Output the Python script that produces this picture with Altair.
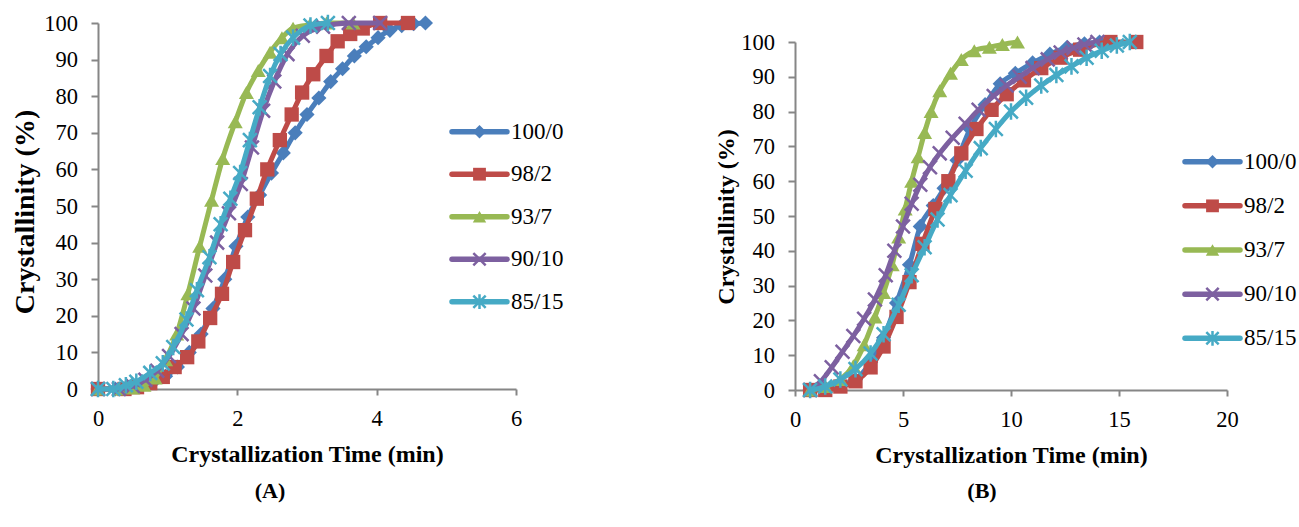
import altair as alt
import pandas as pd

series = ["100/0", "98/2", "93/7", "90/10", "85/15"]
colors = ["#4A7EBB", "#BE4B48", "#98B954", "#7D60A0", "#46AAC5"]
panel_labels = ["(A)", "(B)"]
x_title = "Crystallization Time (min)"
y_title = "Crystallinity (%)"

# ---------------- Panel A ----------------
a_t_100 = [0, 0.25, 0.45, 0.62, 0.8, 0.97, 1.14, 1.31, 1.48, 1.65, 1.82, 1.98, 2.15, 2.32, 2.49, 2.66, 2.83, 3.0, 3.17, 3.34, 3.51, 3.68, 3.85, 4.02, 4.19, 4.36, 4.53, 4.7]
a_c_100 = [0, 0, 0.5, 1, 2, 3.5, 6, 10, 15, 22, 30, 39, 47, 53, 59, 64.5, 70, 75, 79.5, 84, 87.5, 91, 93.5, 96, 98, 99.3, 99.8, 100]
a_t_98 = [0, 0.38, 0.56, 0.75, 0.93, 1.1, 1.28, 1.44, 1.61, 1.78, 1.94, 2.11, 2.28, 2.43, 2.61, 2.78, 2.93, 3.09, 3.28, 3.44, 3.62, 3.8, 4.05, 4.45]
a_c_98 = [0, 0, 0.5, 1.6, 3.3, 6, 8.7, 13, 19.4, 26, 34.7, 43.4, 52, 60, 68, 75, 81, 86, 91, 95, 97, 98.5, 100, 100]
a_t_93 = [0, 0.3, 0.5, 0.66, 0.82, 0.97, 1.13, 1.29, 1.46, 1.63, 1.79, 1.97, 2.13, 2.3, 2.47, 2.64, 2.8, 3.04, 3.28, 3.66]
a_c_93 = [0, 0, 0.3, 1, 3, 8, 15, 26, 39, 51.6, 63, 73, 81, 87, 92, 96, 98.6, 99.5, 100, 100]
a_t_90 = [0, 0.3, 0.5, 0.68, 0.85, 1.02, 1.2, 1.37, 1.54, 1.71, 1.88, 2.05, 2.21, 2.37, 2.53, 2.72, 2.94, 3.23, 3.6, 4.05]
a_c_90 = [0, 0, 0.8, 2.5, 5, 9, 15, 22, 31, 40, 48, 56, 66, 76, 84, 91.5, 96.5, 99, 100, 100]
a_t_85 = [0, 0.22, 0.4, 0.55, 0.75, 0.93, 1.08, 1.27, 1.42, 1.6, 1.76, 1.9, 2.04, 2.18, 2.32, 2.47, 2.62, 2.8, 3.05, 3.3]
a_c_85 = [0, 0, 1, 2, 4.4, 7, 11.5, 19, 27, 36, 45, 52, 59, 68, 77, 85.5, 91.5, 96, 99.3, 100]

# ---------------- Panel B ----------------
b_t_100 = [0.7, 1.4, 2.1, 2.8, 3.5, 4.1, 4.7, 5.3, 5.8, 6.4, 6.9, 7.5, 8.1, 8.8, 9.5, 10.2, 11.0, 11.8, 12.6, 13.4, 14.1]
b_c_100 = [0, 0.5, 1.5, 3, 8, 15, 25, 36, 47, 53, 58, 66, 75, 82, 88, 91, 94, 96.5, 98.5, 99.5, 100]
b_t_98 = [0.7, 1.4, 2.1, 2.8, 3.5, 4.1, 4.7, 5.3, 5.9, 6.5, 7.1, 7.7, 8.4, 9.1, 9.8, 10.6, 11.4, 12.3, 13.2, 14.6, 15.8]
b_c_98 = [0, 0, 1, 2.5, 6.5, 12.5, 21, 31, 42, 52, 60, 68, 75, 80.5, 85, 89, 92.5, 95.5, 97.8, 100, 100]
b_t_93 = [0.7, 1.4, 2.1, 2.7, 3.2, 3.7, 4.1, 4.5, 4.8, 5.1, 5.4, 5.7, 6.0, 6.3, 6.7, 7.2, 7.7, 8.3, 9.0, 9.6, 10.3]
b_c_93 = [0, 1, 3, 7, 13, 21, 28, 36, 44, 52, 60, 67, 74, 80, 86, 91, 95, 97.5, 98.5, 99.3, 100]
b_t_90 = [0.7, 1.2, 1.7, 2.2, 2.7, 3.2, 3.7, 4.2, 4.6, 5.0, 5.4, 5.8, 6.25, 6.7, 7.3, 7.9, 8.5, 9.2, 9.8, 10.4, 11.0, 11.7, 12.3, 12.9, 13.4, 14.0]
b_c_90 = [0, 2.5, 6.5, 11, 15.5, 20.5, 26, 33, 40, 47, 53.5, 59, 64, 68, 72.5, 76.5, 80.5, 84.5, 87.5, 90, 92.5, 95, 97, 98.3, 99.3, 100]
b_t_85 = [0.7, 1.4, 2.1, 2.8, 3.5, 4.1, 4.8, 5.4, 6.0, 6.6, 7.2, 7.9, 8.6, 9.3, 10.0, 10.7, 11.4, 12.1, 12.8, 13.5, 14.2, 14.9, 15.5]
b_c_85 = [0, 1, 3, 6, 10.5, 16, 24.5, 33, 41, 49, 56, 63, 69.5, 75, 80, 84, 87.5, 90.5, 93, 95.5, 97.5, 99, 100]

A_data = [(a_t_100, a_c_100), (a_t_98, a_c_98), (a_t_93, a_c_93), (a_t_90, a_c_90), (a_t_85, a_c_85)]
B_data = [(b_t_100, b_c_100), (b_t_98, b_c_98), (b_t_93, b_c_93), (b_t_90, b_c_90), (b_t_85, b_c_85)]


def frame(data):
    rows = []
    for s, (ts, cs) in zip(series, data):
        for t, c in zip(ts, cs):
            rows.append({"series": s, "t": t, "c": c})
    return pd.DataFrame(rows)


dfA = frame(A_data)
dfB = frame(B_data)

FONT = "Liberation Serif"
AX = "#868686"
X_PATH = "M-1,-1L1,1M-1,1L1,-1"
STAR_PATH = "M-1,-1L1,1M-1,1L1,-1M0,-1.2L0,1.2"
marker = [
    dict(shape="diamond", filled=True, size=230),
    dict(shape="square", filled=True, size=205),
    dict(shape="triangle-up", filled=True, size=225),
    dict(shape=X_PATH, filled=False, size=190),
    dict(shape=STAR_PATH, filled=False, size=190),
]


def point_mark(base, i, scale=1.0):
    m = marker[i]
    if m["filled"]:
        return base.mark_point(shape=m["shape"], filled=True, size=m["size"] * scale, color=colors[i], opacity=1)
    return base.mark_point(shape=m["shape"], filled=False, size=m["size"] * scale, color=colors[i],
                           strokeWidth=2.5, opacity=1)


def panel(df, xdom, xvals, xrange, yrange, xoff, yoff, ytitle_size, ytitle_x, ytitle_y):
    xenc = alt.X("t:Q", scale=alt.Scale(domain=xdom, range=xrange, nice=False, zero=False),
                 axis=alt.Axis(values=xvals, orient="bottom", offset=xoff, grid=False,
                               domainColor=AX, domainWidth=2, tickColor=AX, tickWidth=2, tickSize=6,
                               labelFont=FONT, labelFontSize=22.5, labelColor="black", labelPadding=12,
                               labelFlush=False, labelOverlap=False,
                               title=x_title, titleFont=FONT, titleFontSize=24, titleFontWeight="bold",
                               titleColor="black", titleBaseline="alphabetic", titleY=72))
    yenc = alt.Y("c:Q", scale=alt.Scale(domain=[0, 100], range=yrange, nice=False, zero=False),
                 axis=alt.Axis(values=list(range(0, 101, 10)), orient="left", offset=yoff, grid=False,
                               domainColor=AX, domainWidth=2, tickColor=AX, tickWidth=2, tickSize=7,
                               labelFont=FONT, labelFontSize=22.5, labelColor="black", labelPadding=13.5,
                               labelFlush=False, labelOverlap=False,
                               title=y_title, titleFont=FONT, titleFontSize=ytitle_size, titleFontWeight="bold",
                               titleColor="black", titleAngle=270, titleBaseline="alphabetic",
                               titleX=ytitle_x, titleY=ytitle_y))
    layers = []
    for i, s in enumerate(series):
        base = alt.Chart(df).transform_filter(alt.datum.series == s)
        layers.append(base.mark_line(color=colors[i], strokeWidth=5, interpolate="monotone",
                                     strokeCap="round", strokeJoin="round")
                      .encode(x=xenc, y=yenc, order="t:Q"))
        layers.append(point_mark(base, i).encode(x=xenc, y=yenc))
    return alt.layer(*layers)


def legend(x1, x2, yrange):
    dl = pd.DataFrame({"series": series})
    yenc = alt.Y("series:N", scale=alt.Scale(type="point", domain=series, range=yrange, padding=0), axis=None)
    layers = []
    xm = (x1 + x2) / 2
    for i, s in enumerate(series):
        base = alt.Chart(dl).transform_filter(alt.datum.series == s)
        layers.append(base.mark_rule(color=colors[i], strokeWidth=5.5, strokeCap="round")
                      .encode(x=alt.value(x1), x2=alt.value(x2), y=yenc))
        layers.append(point_mark(base, i, 0.8).encode(x=alt.value(xm), y=yenc))
        layers.append(base.mark_text(align="left", baseline="middle", font=FONT, fontSize=23, color="black")
                      .encode(x=alt.value(x2 + 4), y=yenc, text="series:N"))
    return alt.layer(*layers)


pA = panel(dfA, [0, 6], [0, 2, 4, 6], [98, 516], [389, 23], 389 - 527, -98, 28, -65, 211.5)
pB = panel(dfB, [0, 20], [0, 5, 10, 15, 20], [795, 1227], [390, 42], 390 - 527, -795, 24, -62, 216.5)
lA = legend(452, 507, [131.7, 301.7])
lB = legend(1185, 1240, [161.7, 338.3])

dlab = pd.DataFrame({"lab": panel_labels})
labA = alt.Chart(dlab).transform_filter(alt.datum.lab == panel_labels[0]).mark_text(
    font=FONT, fontSize=22, fontWeight="bold", color="black", align="center", baseline="middle"
).encode(x=alt.value(270), y=alt.value(491), text="lab:N")
labB = alt.Chart(dlab).transform_filter(alt.datum.lab == panel_labels[1]).mark_text(
    font=FONT, fontSize=22, fontWeight="bold", color="black", align="center", baseline="middle"
).encode(x=alt.value(982), y=alt.value(491), text="lab:N")

chart = alt.layer(pA, pB, lA, lB, labA, labB).resolve_scale(
    x="independent", y="independent"
).properties(
    width=1299, height=527, autosize=alt.AutoSizeParams(type="none"), padding=0, background="white"
).configure_view(stroke=None)

chart.save("out.html", embed_options={"renderer": "svg", "actions": False})
